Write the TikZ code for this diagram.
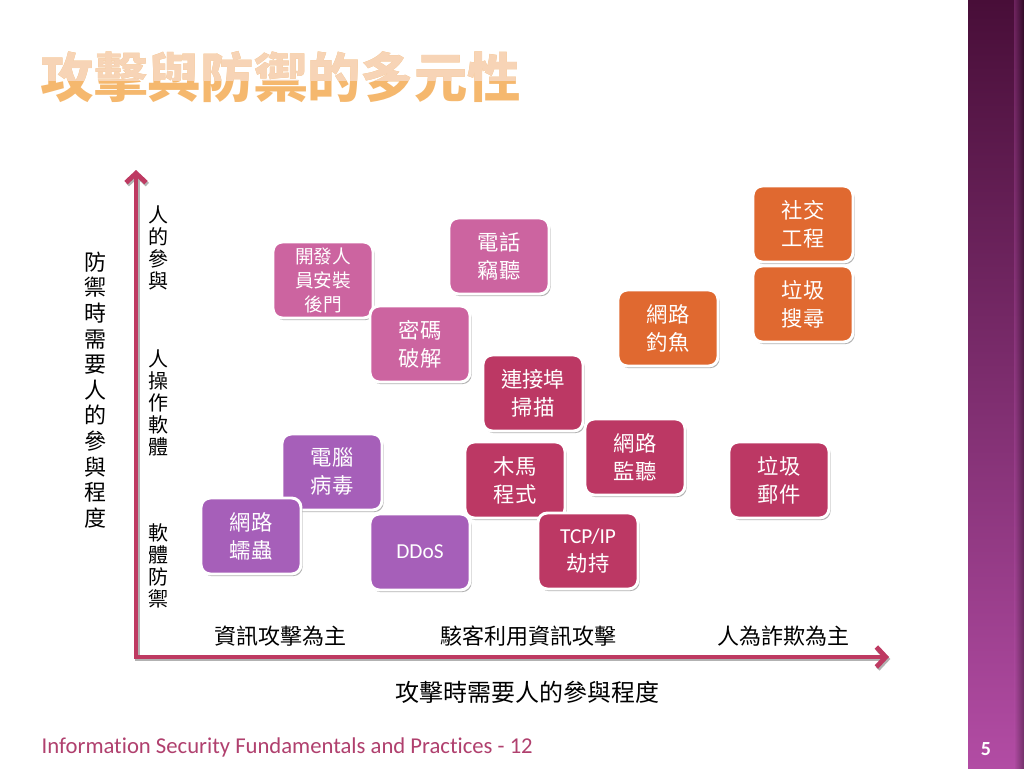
\documentclass[tikz,border=0pt]{standalone}
\usepackage{fontspec}
\setmainfont{Carlito}[Ligatures=NoCommon]
\newfontfamily\cjk{Noto Sans CJK TC}
\usepackage{tikz}
\usetikzlibrary{arrows.meta,shadows}

\definecolor{axisred}{RGB}{190,58,98}
\definecolor{cardpink}{RGB}{204,100,160}
\definecolor{cardred}{RGB}{188,56,100}
\definecolor{cardorange}{RGB}{224,105,48}
\definecolor{cardpurple}{RGB}{166,95,185}
\definecolor{bandtop}{RGB}{72,14,56}
\definecolor{bandmid}{RGB}{122,44,108}
\definecolor{bandbot}{RGB}{178,76,164}
\definecolor{footred}{RGB}{176,64,110}
\definecolor{titlepale}{RGB}{247,212,182}
\definecolor{titleorange}{RGB}{245,184,110}

\tikzset{
  card/.style={rounded corners=7pt, draw=white, line width=2.2pt,
    minimum width=75pt, minimum height=57pt, align=center, text=white,
    font=\cjk\fontsize{16}{21}\selectfont,
    drop shadow={shadow xshift=1.2pt, shadow yshift=-1.6pt, opacity=0.3, fill=black}},
  pinkcard/.style={card, fill=cardpink},
  redcard/.style={card, fill=cardred},
  orangecard/.style={card, fill=cardorange},
  purplecard/.style={card, fill=cardpurple},
  vlabel/.style={align=center, font=\cjk\fontsize{15}{16.5}\selectfont},
  catlabel/.style={font=\cjk\fontsize{16.5}{20}\selectfont},
  titletext/.style={anchor=west, font=\cjk\bfseries\fontsize{40}{44}\selectfont},
  axis/.style={draw=axisred, line width=3.6pt,
    {Straight Barb[length=7pt,width=15pt]}-{Straight Barb[length=7pt,width=15pt]}}
}

\begin{document}
\begin{tikzpicture}[x=0.75pt,y=-0.75pt]
\useasboundingbox (0,0) rectangle (1024,768);
\fill[white] (0,0) rectangle (1024,768);

\shade[top color=bandtop, middle color=bandmid, bottom color=bandbot] (968,0) rectangle (1024,768);
\shade[left color=bandbot, right color=black, opacity=0.35] (1014,0) rectangle (1024,768);

\node[titletext, text=titleorange] (T) at (36,77) {攻擊與防禦的多元性};
\begin{scope}
\clip (0,0) rectangle (600,80);
\node[titletext, text=titlepale] (T2) at (36,77) {攻擊與防禦的多元性};
\end{scope}

\coordinate (O) at (136,657);
\coordinate (Y) at (136,170);
\coordinate (X) at (889,657);

\draw[axis, draw=black!30, transform canvas={xshift=1pt,yshift=-1.5pt}] (Y) -- (O) -- (X);
\draw[axis] (Y) -- (O) -- (X);

\node[vlabel, font=\cjk\fontsize{16.5}{19.2}\selectfont] (L) at (95,390) {防\\禦\\時\\需\\要\\人\\的\\參\\與\\程\\度};
\node[vlabel] (V1) at (158,248) {人\\的\\參\\與};
\node[vlabel] (V2) at (158,403) {人\\操\\作\\軟\\體};
\node[vlabel] (V3) at (158,566) {軟\\體\\防\\禦};

\node[catlabel] (C1) at (280,636) {資訊攻擊為主};
\node[catlabel] (C2) at (528,636) {駭客利用資訊攻擊};
\node[catlabel] (C3) at (783,636) {人為詐欺為主};
\node[font=\cjk\fontsize{18}{22}\selectfont] (XT) at (527,692) {攻擊時需要人的參與程度};

\node[pinkcard, font=\cjk\fontsize{14}{18}\selectfont] (A) at (323,280) {開發人\\員安裝\\後門};
\node[pinkcard] (B) at (420,344) {密碼\\破解};
\node[pinkcard] (C) at (499,256) {電話\\竊聽};
\node[redcard] (D) at (533,393) {連接埠\\掃描};
\node[redcard] (E) at (635,457) {網路\\監聽};
\node[orangecard] (F) at (668,328) {網路\\釣魚};
\node[orangecard] (G) at (803,224) {社交\\工程};
\node[orangecard] (H) at (803,304) {垃圾\\搜尋};
\node[redcard] (I) at (779,480) {垃圾\\郵件};
\node[purplecard] (J) at (332,472) {電腦\\病毒};
\node[purplecard] (K) at (251,536) {網路\\蠕蟲};
\node[purplecard] (M) at (420,552) {{\rmfamily DDoS}};
\node[redcard] (N) at (515,480) {木馬\\程式};
\node[redcard] (P) at (588,551) {{\rmfamily TCP/IP}\\劫持};

\node[anchor=west, text=footred, font=\fontsize{17}{20}\selectfont] (FT) at (37,747) {Information Security Fundamentals and Practices - 12};
\node[text=white, font=\bfseries\fontsize{15}{18}\selectfont] (PG) at (986,749) {5};
\end{tikzpicture}
\end{document}
